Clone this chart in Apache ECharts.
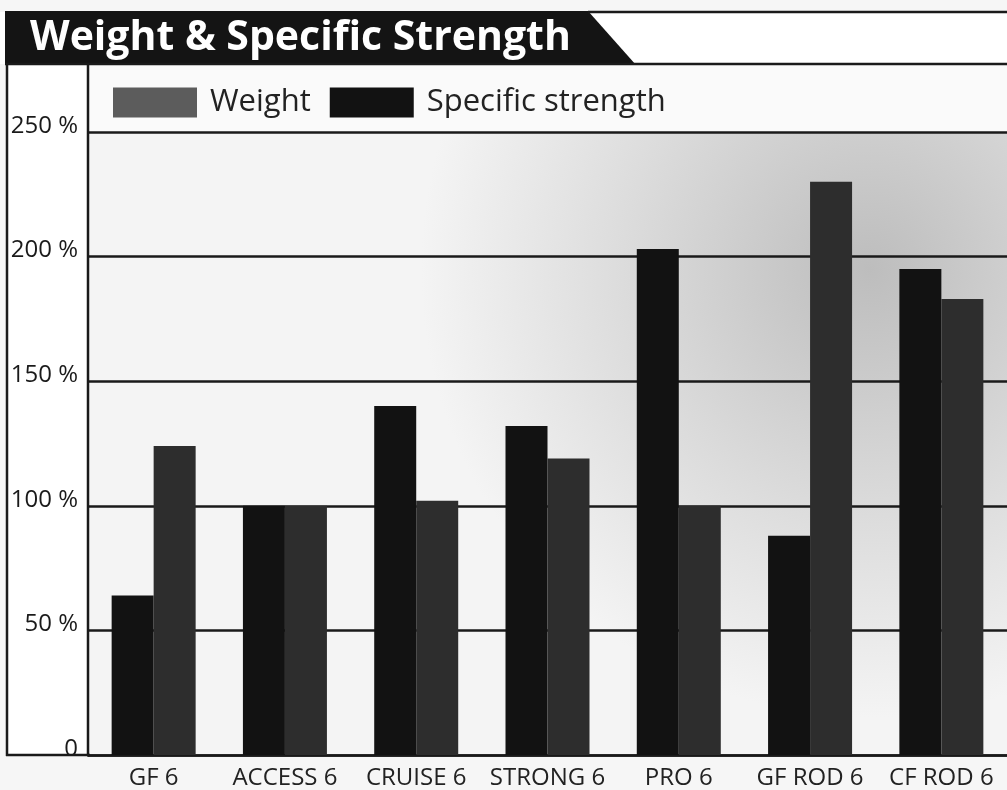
<!DOCTYPE html>
<html>
<head>
<meta charset="utf-8">
<script src="https://cdn.jsdelivr.net/npm/echarts@6/dist/echarts.min.js"></script>
<style>
html,body{margin:0;padding:0;background:#f6f6f6;}
#c{width:1007px;height:790px;}
</style>
</head>
<body>
<div id="c"></div>
<script>
var categories = ['GF 6', 'ACCESS 6', 'CRUISE 6', 'STRONG 6', 'PRO 6', 'GF ROD 6', 'CF ROD 6'];
var specificStrength = [64, 100, 140, 132, 203, 88, 195];
var weight = [124, 100, 102, 119, 100, 230, 183];
var yTicks = [0, 50, 100, 150, 200, 250];

var FONT = '"Open Sans", Lato, sans-serif';
var chart = echarts.init(document.getElementById('c'));
chart.setOption({
  backgroundColor: '#f6f6f6',
  animation: false,
  title: {
    text: 'Weight & Specific Strength',
    left: 25, top: 13,
    textStyle: {color: '#ffffff', fontSize: 41, fontWeight: 'bold', fontFamily: FONT}
  },
  legend: {
    left: 108, top: 82,
    itemWidth: 84, itemHeight: 30, itemGap: 19,
    icon: 'rect',
    textStyle: {fontSize: 31, color: '#222', fontFamily: FONT, padding: [0, 0, 0, 8]},
    data: [
      {name: 'Weight', itemStyle: {color: '#5c5c5c'}},
      {name: 'Specific strength', itemStyle: {color: '#121212'}}
    ]
  },
  grid: {
    left: 88, right: 0, top: 132, bottom: 35,
    show: true, borderWidth: 0,
    backgroundColor: {
      type: 'radial', x: 0.85, y: 0.22, r: 0.72,
      colorStops: [
        {offset: 0, color: '#bdbdbd'},
        {offset: 0.55, color: '#dcdcdc'},
        {offset: 1, color: '#f4f4f4'}
      ]
    }
  },
  xAxis: {
    type: 'category',
    data: categories,
    axisLine: {lineStyle: {color: '#1a1a1a', width: 2.5}},
    axisTick: {show: false},
    axisLabel: {interval: 0, fontSize: 24, color: '#222', margin: 11, fontFamily: FONT}
  },
  yAxis: {
    type: 'value',
    min: 0, max: 250, interval: 50,
    axisLine: {show: false},
    axisTick: {show: false},
    splitLine: {lineStyle: {color: '#1a1a1a', width: 2.5}},
    axisLabel: {
      fontSize: 24, color: '#1a1a1a', margin: 10, fontFamily: FONT,
      verticalAlign: 'bottom', lineHeight: 12,
      formatter: function (v) { return v === yTicks[0] ? '0' : v + ' %'; }
    }
  },
  series: [
    {name: 'Specific strength', type: 'bar', data: specificStrength, barWidth: 42, barGap: '0%',
     itemStyle: {color: '#121212'}},
    {name: 'Weight', type: 'bar', data: weight, barWidth: 42, barGap: '0%',
     itemStyle: {color: '#2d2d2d'}}
  ],
  graphic: [
    {type: 'rect', z: -1, shape: {x: 0, y: 12, width: 1007, height: 52}, style: {fill: '#ffffff'}},
    {type: 'rect', z: -1, shape: {x: 7, y: 64, width: 81, height: 691}, style: {fill: '#ffffff'}},
    {type: 'rect', z: -1, shape: {x: 88, y: 64, width: 919, height: 68}, style: {fill: '#fafafa'}},
    {type: 'polygon', z: 1, shape: {points: [[5, 11], [588, 11], [636, 65], [5, 65]]}, style: {fill: '#141414'}},
    {type: 'line', z: 20, shape: {x1: 588, y1: 12, x2: 1007, y2: 12}, style: {stroke: '#1a1a1a', lineWidth: 2.5}},
    {type: 'line', z: 20, shape: {x1: 5, y1: 64, x2: 1007, y2: 64}, style: {stroke: '#1a1a1a', lineWidth: 2.5}},
    {type: 'line', z: 20, shape: {x1: 7, y1: 64, x2: 7, y2: 756}, style: {stroke: '#1a1a1a', lineWidth: 2.5}},
    {type: 'line', z: 20, shape: {x1: 88, y1: 64, x2: 88, y2: 756}, style: {stroke: '#1a1a1a', lineWidth: 2.5}},
    {type: 'line', z: 20, shape: {x1: 6, y1: 755, x2: 90, y2: 755}, style: {stroke: '#1a1a1a', lineWidth: 2.5}}
  ]
});
</script>
</body>
</html>
